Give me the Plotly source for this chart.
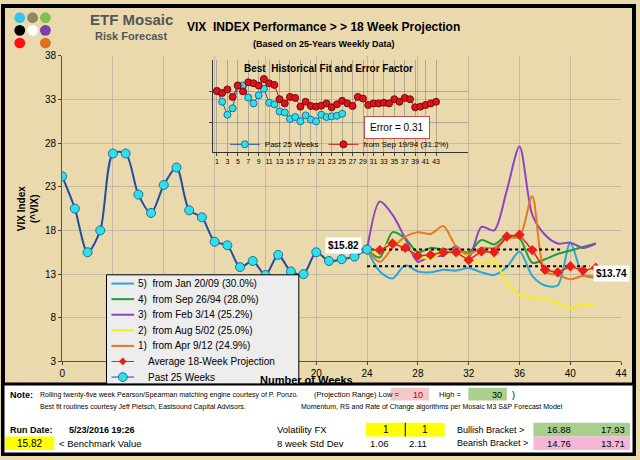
import plotly.graph_objects as go

W, H = 640, 460

# past 25 weeks of VIX
past_x = list(range(0, 25))
past_y = [24.2, 20.5, 15.5, 18.0, 26.8, 26.8, 22.1, 20.0, 23.2, 25.2, 20.3, 19.5, 16.7,
          16.3, 13.8, 14.5, 12.9, 15.2, 13.3, 13.0, 15.5, 14.5, 14.7, 15.0, 15.82]

proj_x = list(range(24, 43))
avg_proj = [15.82, 15.75, 16.5, 16.0, 15.1, 15.2, 15.5, 15.5, 14.6, 15.6, 15.5, 17.3, 17.5,
            15.75, 13.5, 13.2, 13.9, 13.4, 13.74]
m5_jan09 = [15.82, 13.3, 12.5, 14.0, 13.3, 13.2, 13.5, 13.4, 13.7, 13.2, 12.9, 13.8, 15.6,
            12.8, 11.7, 11.7, 16.6, 12.9, 12.6]
m4_sep94 = [15.82, 14.9, 17.8, 17.1, 15.5, 16.0, 15.8, 15.8, 15.5, 16.9, 16.4, 17.4, 17.1,
            14.3, 14.7, 15.3, 15.7, 16.1, 16.5]
m3_feb14 = [15.82, 21.3, 19.8, 17.1, 14.4, 15.1, 15.1, 16.2, 14.9, 18.4, 18.0, 22.6, 27.6,
            19.8, 17.5, 16.5, 16.6, 16.0, 16.5]
m2_aug02 = [15.82, 15.5, 16.9, 16.2, 15.1, 14.8, 15.5, 15.6, 14.9, 14.2, 14.5, 12.0, 10.6,
            10.3, 10.2, 9.7, 9.1, 9.5, 9.6]
m1_apr12 = [15.82, 14.4, 16.0, 17.3, 17.8, 17.6, 18.5, 16.2, 15.3, 16.0, 16.0, 17.1, 17.3,
            21.9, 13.3, 12.9, 12.4, 12.8, 12.7]

# inset: best historical fit
inset_past_x = list(range(1, 26))
inset_past = [18.8, 15.5, 11.5, 13.5, 20.5, 20.5, 16.8, 15.0, 17.5, 19.5, 15.2, 14.7, 12.5,
              12.2, 10.2, 10.8, 9.5, 11.3, 10.0, 9.5, 11.5, 10.8, 11.0, 11.2, 11.8]
inset_fit_x = list(range(1, 44))
inset_fit = [18.8, 18.2, 19.3, 17.0, 20.5, 18.7, 21.5, 21.2, 20.5, 22.5, 21.2, 20.7, 16.3,
             15.0, 17.0, 16.7, 14.0, 15.5, 14.2, 14.0, 14.3, 15.0, 13.8, 14.7, 15.8, 15.0,
             14.2, 17.0, 16.5, 14.5, 15.0, 15.0, 15.2, 15.0, 16.3, 15.5, 16.7, 16.3, 13.8,
             14.0, 14.5, 15.0, 15.5]

BG = "#EBD9AE"
fig = go.Figure()

def px_x(p):
    return p / W

def px_y(p):
    return 1 - p / H

spline = dict(shape="spline", smoothing=0.8, width=2)
series = [("5)  from Jan 20/09 (30.0%)", m5_jan09, "#2AA6D9"),
          ("4)  from Sep 26/94 (28.0%)", m4_sep94, "#1E9E3A"),
          ("3)  from Feb 3/14 (25.2%)", m3_feb14, "#8B45C4"),
          ("2)  from Aug 5/02 (25.0%)", m2_aug02, "#F5EE1A"),
          ("1)  from Apr 9/12 (24.9%)", m1_apr12, "#E87A1E")]
for name, ys, col in series:
    fig.add_trace(go.Scatter(x=proj_x, y=ys, mode="lines", name=name, showlegend=False,
                             line=dict(color=col, **spline)))

fig.add_trace(go.Scatter(x=[22.9, 39.4], y=[15.82, 15.82], mode="lines", showlegend=False,
                         line=dict(color="black", dash="dot", width=2)))
fig.add_trace(go.Scatter(x=[24, 41.5], y=[13.9, 13.9], mode="lines", showlegend=False,
                         line=dict(color="black", dash="dot", width=2)))
fig.add_trace(go.Scatter(x=proj_x, y=avg_proj, mode="lines+markers", name="Average 18-Week Projection",
                         showlegend=False, line=dict(color="#E8201A", width=1.5),
                         marker=dict(symbol="diamond", size=8, color="#E8201A")))
fig.add_trace(go.Scatter(x=past_x, y=past_y, mode="lines+markers", name="Past 25 Weeks",
                         showlegend=False,
                         line=dict(color="#1F4FA0", width=2, shape="spline", smoothing=0.8),
                         marker=dict(size=9, color="#2FE0E8", line=dict(color="#1F6FA0", width=1))))

# inset traces
fig.add_trace(go.Scatter(x=inset_past_x, y=inset_past, mode="lines+markers", name="Past 25 Weeks",
                         xaxis="x2", yaxis="y2", legend="legend2",
                         line=dict(color="#1F4FA0", width=1),
                         marker=dict(size=7, color="#2FE0E8", line=dict(color="#1F6FA0", width=1))))
fig.add_trace(go.Scatter(x=inset_fit_x, y=inset_fit, mode="lines+markers", name="from Sep 19/94 (31.2%)",
                         xaxis="x2", yaxis="y2", legend="legend2",
                         line=dict(color="#C0141A", width=1),
                         marker=dict(size=7, color="#D9141A", line=dict(color="#7A0A0A", width=1))))

grid = "rgba(150,150,150,0.45)"
fig.update_layout(
    width=W, height=H, margin=dict(l=0, r=0, t=0, b=0),
    paper_bgcolor=BG, plot_bgcolor="rgba(0,0,0,0)",
    font=dict(family="Liberation Sans, Arial", size=10, color="black"),
    xaxis=dict(domain=[px_x(60), px_x(627)], range=[0, 44], tickvals=list(range(0, 45, 4)),
               showgrid=True, gridcolor=grid, zeroline=False, showline=True, linecolor="#555",
               ticks="outside", ticklen=3, tickfont=dict(size=10)),
    yaxis=dict(domain=[px_y(365), px_y(51)], range=[3, 38], tickvals=list(range(3, 39, 5)),
               showgrid=True, gridcolor=grid, zeroline=False, showline=True, linecolor="#555",
               ticks="outside", ticklen=3, tickfont=dict(size=10)),
    xaxis2=dict(domain=[px_x(213), px_x(472)], range=[0.24, 49.2], anchor="y2",
                tickvals=list(range(1, 44, 2)), tickfont=dict(size=7), showgrid=True,
                gridcolor="rgba(120,120,120,0.5)", zeroline=False, showline=True, linecolor="#333",
                ticks="outside", ticklen=3),
    yaxis2=dict(domain=[px_y(150), px_y(55)], range=[0, 28.5], anchor="x2",
                tickvals=[9.2, 18.8], showticklabels=False, showgrid=True,
                gridcolor="rgba(120,120,120,0.5)", zeroline=False, showline=True, linecolor="#333",
                ticks="outside", ticklen=3),
    legend2=dict(x=px_x(225), y=px_y(142), xanchor="left", yanchor="middle", orientation="h",
                 bgcolor="rgba(0,0,0,0)", font=dict(size=8), itemwidth=30),
    showlegend=True,
)

shapes = []
# outer border and panel divider
shapes.append(dict(type="rect", xref="paper", yref="paper", x0=0, x1=1, y0=0, y1=1,
                   line=dict(color="black", width=4)))
shapes.append(dict(type="rect", xref="paper", yref="paper", x0=0, x1=1, y0=0, y1=px_y(388),
                   fillcolor="white", line=dict(color="black", width=3)))
# logo dots
dots = [("#35C4F0", 0, 0), ("#8C8A5C", 1, 0), ("#7CC44A", 2, 0),
        ("black", 0, 1), ("white", 1, 1), ("#7B3FA8", 2, 1),
        ("#FF1010", 0, 2), ("#E07020", 2, 2)]
for c, i, j in dots:
    cx, cy = 17 + i * 13, 12 + j * 13
    shapes.append(dict(type="circle", xref="paper", yref="paper", x0=px_x(cx - 5.5), x1=px_x(cx + 5.5),
                       y0=px_y(cy + 5.5), y1=px_y(cy - 5.5), fillcolor=c, line=dict(width=0)))
# bottom cells
cells = [(393, 432, 392, 405, "#F2C9C9"), (472, 511, 392, 405, "#A9CF8F"),
         (368, 448, 428, 442, "#FFFF00"), (538, 636, 428, 442, "#A9CF8F"),
         (2, 52, 442, 456, "#FFFF00"), (538, 636, 442, 456, "#F6B7D6")]
for x0, x1, y0, y1, c in cells:
    shapes.append(dict(type="rect", xref="paper", yref="paper", x0=px_x(x0), x1=px_x(x1),
                       y0=px_y(y1), y1=px_y(y0), fillcolor=c, line=dict(width=0)))
shapes.append(dict(type="line", xref="paper", yref="paper", x0=px_x(408), x1=px_x(408),
                   y0=px_y(442), y1=px_y(428), line=dict(color="black", width=1)))

# main legend box (drawn by hand for compact rows)
shapes.append(dict(type="rect", xref="paper", yref="paper", x0=px_x(105), x1=px_x(300),
                   y0=px_y(388), y1=px_y(276), fillcolor="#EDEDED", line=dict(color="black", width=1)))
legend_rows = [(n, c) for n, _, c in series] + [("Average 18-Week Projection", "#E8201A"),
                                               ("Past 25 Weeks", "#1F4FA0")]
for i, (n, c) in enumerate(legend_rows):
    yy = 285 + 16 * i
    shapes.append(dict(type="line", xref="paper", yref="paper", x0=px_x(110), x1=px_x(133),
                       y0=px_y(yy), y1=px_y(yy), line=dict(color=c, width=2 if i < 5 else 1)))
    if i == 5:
        shapes.append(dict(type="path", xref="paper", yref="paper", line=dict(width=0),
                           fillcolor="#E8201A",
                           path="M %f %f L %f %f L %f %f L %f %f Z" % (
                               px_x(121.5), px_y(yy - 4), px_x(125.5), px_y(yy),
                               px_x(121.5), px_y(yy + 4), px_x(117.5), px_y(yy))))
    if i == 6:
        shapes.append(dict(type="circle", xref="paper", yref="paper", x0=px_x(117), x1=px_x(126),
                           y0=px_y(yy + 4.5), y1=px_y(yy - 4.5), fillcolor="#2FE0E8",
                           line=dict(color="#1F6FA0", width=1)))
fig.update_layout(shapes=shapes)

ann = []
def txt(x, y, s, size=10, bold=False, color="black", anchor="left", **kw):
    if bold:
        s = "<b>" + s + "</b>"
    ann.append(dict(x=px_x(x), y=px_y(y), xref="paper", yref="paper", text=s, showarrow=False,
                    xanchor=anchor, yanchor="middle", font=dict(size=size, color=color), **kw))

for i, (n, c) in enumerate(legend_rows):
    txt(135 if i < 5 else 145, 285 + 16 * i, n, 10)

txt(130, 14, "ETF Mosaic", 15, True, "#555", anchor="center")
txt(130, 31, "Risk Forecast", 11, True, "#555", anchor="center")
txt(325, 22, "VIX  INDEX Performance > > 18 Week Projection", 12, True, anchor="center")
txt(325, 39, "(Based on 25-Years Weekly Data)", 9, True, anchor="center")
txt(25, 208, "VIX Index<br>(^VIX)", 10, True, anchor="center", textangle=-90)
txt(308, 384, "Number of Weeks", 11, True, anchor="center")
txt(330, 64, "Best  Historical Fit and Error Factor", 10, True, anchor="center")
txt(400, 125, "Error = 0.31", 10, anchor="center", bgcolor="white", bordercolor="#C0504D",
    borderwidth=1, borderpad=5)
txt(345, 246, "$15.82", 10, True, anchor="center", bgcolor="white", borderpad=2)
txt(617, 275, "$13.74", 10, True, anchor="center", bgcolor="white", borderpad=2)

txt(5, 399, "Note:", 9, True)
txt(36, 399, "Rolling twenty-five week Pearson/Spearman matching engine courtesy of P. Ponzo.", 7)
txt(313, 399, "(Projection Range) Low =", 7.5)
txt(428, 399, "10", 9, color="#C00000", anchor="right")
txt(440, 399, "High =", 7.5)
txt(508, 399, "30", 9, anchor="right")
txt(514, 399, ")", 9)
txt(36, 412, "Best fit routines courtesy Jeff Pietsch, Eastsound Capital Advisors.", 7)
txt(300, 412, "Momentum, RS and Rate of Change algorithms per Mosaic M3 S&P Forecast Model", 7, anchor="left")
txt(5, 435, "Run Date:", 9, True)
txt(65, 435, "5/23/2016 19:26", 9, True)
txt(276, 435, "Volatility FX", 9.5)
txt(388, 435, "1", 10, anchor="center")
txt(428, 435, "1", 10, anchor="center")
txt(458, 435, "Bullish Bracket >", 9)
txt(578, 435, "16.88", 9.5, anchor="right")
txt(633, 435, "17.93", 9.5, anchor="right")
txt(27, 449, "15.82", 10, anchor="center")
txt(55, 449, "< Benchmark Value", 9.5)
txt(276, 449, "8 week Std Dev", 9.5)
txt(394, 449, "1.06", 9.5, anchor="right")
txt(432, 449, "2.11", 9.5, anchor="right")
txt(458, 449, "Bearish Bracket >", 9)
txt(578, 449, "14.76", 9.5, anchor="right")
txt(633, 449, "13.71", 9.5, anchor="right")
fig.update_layout(annotations=ann)

fig.write_html("out.html", config={"displayModeBar": False},
               post_script="document.body.style.margin='0';")
